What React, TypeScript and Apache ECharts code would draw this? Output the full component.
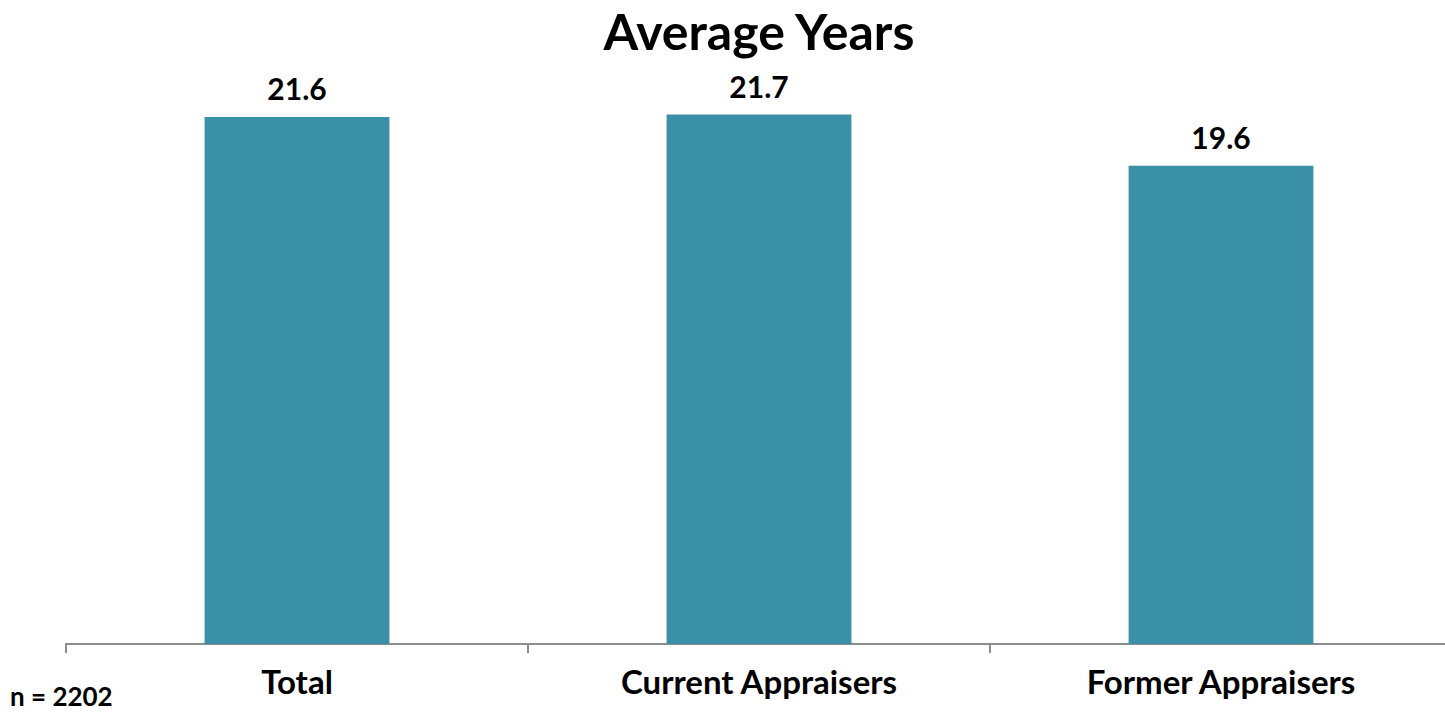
import React, { useEffect, useRef } from "react";
import * as echarts from "echarts";

const categories = ["Total", "Current Appraisers", "Former Appraisers"];
const values = [21.6, 21.7, 19.6];
const titleText = "Average Years";
const noteText = "n = 2202";

export default function App() {
  const ref = useRef<HTMLDivElement>(null);
  useEffect(() => {
    const chart = echarts.init(ref.current!, null, { renderer: "svg" });
    const font = "Lato, 'Open Sans', sans-serif";
    chart.setOption({
      animation: false,
      backgroundColor: "#ffffff",
      title: {
        text: titleText,
        left: 754,
        textAlign: "center",
        top: 1,
        textStyle: { fontFamily: font, fontWeight: "bold", fontSize: 50, color: "#000" },
      },
      graphic: [
        {
          type: "text",
          left: 10,
          top: 683,
          style: { text: noteText, fontFamily: font, fontWeight: "bold", fontSize: 26, fill: "#000" },
        },
      ],
      grid: {
        left: 66,
        width: 1386,
        top: 58.4,
        bottom: 68,
        containLabel: false,
        outerBoundsMode: "none",
      },
      xAxis: {
        type: "category",
        data: categories,
        axisLine: { lineStyle: { color: "#8c8c8c", width: 2 } },
        axisTick: { show: true, length: 9, lineStyle: { color: "#8c8c8c", width: 2 } },
        axisLabel: { fontFamily: font, fontWeight: "bold", fontSize: 33, color: "#000", margin: 20 },
      },
      yAxis: {
        type: "value",
        min: 0,
        max: 24,
        show: false,
        splitLine: { show: false },
      },
      series: [
        {
          type: "bar",
          data: values,
          barWidth: "40%",
          itemStyle: { color: "#3a90a7" },
          label: {
            show: true,
            position: "top",
            distance: 14,
            fontFamily: font,
            fontWeight: "bold",
            fontSize: 30,
            color: "#000",
            formatter: (p: any) => p.value.toFixed(1),
          },
        },
      ],
    });
    return () => chart.dispose();
  }, []);
  return <div ref={ref} style={{ width: 1445, height: 712, position: "absolute", left: 0, top: 0 }} />;
}
